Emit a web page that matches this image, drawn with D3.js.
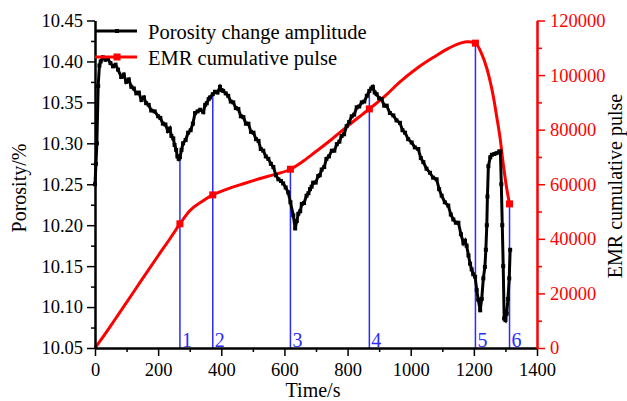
<!DOCTYPE html>
<html>
<head>
<meta charset="utf-8">
<script src="https://cdn.jsdelivr.net/npm/d3@7"></script>
<style>
  body { margin: 0; background: #fff; }
  text { font-family: "Liberation Serif", "Times New Roman", serif; }
</style>
</head>
<body>
<div id="chart"></div>
<script>
// porosity (black series)
var blackTime = [0, 3, 6, 10, 14, 18, 25, 33, 41, 49, 57, 65, 73, 83, 91, 99, 107, 115, 123, 131, 139, 147, 155, 162, 170, 178, 189, 200, 207, 215, 223, 231, 237, 242, 248, 252, 257, 261, 265, 269, 274, 279, 287, 295, 303, 310, 317, 325, 333, 343, 349, 354, 360, 364, 373, 380, 388, 396, 401, 406, 414, 422, 430, 438, 446, 454, 462, 470, 478, 486, 494, 502, 510, 518, 525, 533, 541, 549, 557, 565, 573, 581, 589, 596, 604, 612, 619, 628, 634, 639, 644, 650, 655, 662, 670, 676, 681, 686, 691, 699, 707, 712, 718, 726, 733, 741, 750, 758, 766, 774, 781, 789, 797, 805, 813, 821, 829, 837, 845, 853, 861, 869, 875, 880, 886, 892, 900, 908, 916, 924, 934, 945, 955, 966, 974, 982, 992, 1003, 1013, 1024, 1032, 1040, 1050, 1061, 1071, 1082, 1090, 1098, 1108, 1119, 1127, 1135, 1143, 1151, 1159, 1167, 1172, 1177, 1183, 1188, 1193, 1198, 1204, 1209, 1214, 1220, 1225, 1230, 1235, 1238, 1241, 1243, 1246, 1252, 1257, 1265, 1272, 1280, 1284, 1287, 1290, 1293, 1296, 1300, 1304, 1308, 1312, 1315];
var blackValue = [10.250, 10.275, 10.300, 10.370, 10.395, 10.400, 10.405, 10.402, 10.403, 10.398, 10.394, 10.396, 10.390, 10.381, 10.384, 10.375, 10.378, 10.369, 10.367, 10.361, 10.362, 10.353, 10.356, 10.349, 10.347, 10.340, 10.339, 10.333, 10.331, 10.324, 10.323, 10.315, 10.318, 10.309, 10.306, 10.298, 10.292, 10.284, 10.281, 10.283, 10.292, 10.300, 10.304, 10.313, 10.316, 10.324, 10.337, 10.339, 10.341, 10.338, 10.347, 10.349, 10.354, 10.356, 10.360, 10.363, 10.362, 10.369, 10.365, 10.364, 10.361, 10.358, 10.351, 10.350, 10.343, 10.342, 10.333, 10.332, 10.324, 10.324, 10.314, 10.313, 10.305, 10.303, 10.293, 10.291, 10.284, 10.281, 10.275, 10.271, 10.261, 10.256, 10.254, 10.251, 10.246, 10.240, 10.228, 10.212, 10.196, 10.205, 10.214, 10.217, 10.226, 10.227, 10.236, 10.239, 10.244, 10.247, 10.252, 10.252, 10.260, 10.261, 10.268, 10.271, 10.281, 10.284, 10.291, 10.291, 10.299, 10.302, 10.309, 10.311, 10.321, 10.326, 10.333, 10.335, 10.344, 10.345, 10.350, 10.351, 10.358, 10.364, 10.367, 10.369, 10.362, 10.360, 10.355, 10.354, 10.346, 10.346, 10.337, 10.334, 10.328, 10.325, 10.316, 10.313, 10.305, 10.301, 10.295, 10.293, 10.282, 10.277, 10.269, 10.264, 10.258, 10.256, 10.244, 10.236, 10.228, 10.224, 10.213, 10.207, 10.203, 10.203, 10.189, 10.178, 10.181, 10.175, 10.163, 10.153, 10.146, 10.140, 10.137, 10.121, 10.109, 10.096, 10.110, 10.135, 10.149, 10.170, 10.200, 10.235, 10.272, 10.283, 10.286, 10.287, 10.288, 10.290, 10.290, 10.250, 10.200, 10.150, 10.086, 10.084, 10.092, 10.110, 10.135, 10.170];

// EMR cumulative pulse (red series)
var redTime = [0, 30, 60, 100, 150, 200, 240, 269, 300, 340, 373, 420, 470, 520, 570, 619, 660, 700, 750, 800, 869, 920, 966, 1020, 1072, 1120, 1160, 1180, 1205, 1222, 1241, 1252, 1262, 1272, 1283, 1293, 1304, 1313];
var redValue = [0, 4800, 9900, 16700, 25300, 33800, 40500, 45500, 50300, 53800, 56100, 58300, 60200, 62000, 63600, 65500, 68500, 72000, 76500, 81300, 87600, 92500, 97500, 102500, 106500, 109800, 111800, 112200, 111700, 108500, 102500, 97500, 92000, 85000, 77000, 67500, 58500, 52800];

// marked stages
var eventTime = [269, 373, 619, 869, 1205, 1313];
var eventLabel = ['1', '2', '3', '4', '5', '6'];

var xTicks = [0, 200, 400, 600, 800, 1000, 1200, 1400];
var yLeftTicks = [10.05, 10.10, 10.15, 10.20, 10.25, 10.30, 10.35, 10.40, 10.45];
var yRightTicks = [0, 20000, 40000, 60000, 80000, 100000, 120000];
var legendLabels = ['Porosity change amplitude', 'EMR cumulative pulse'];

var W = 627, H = 401;
var BLACK = '#000', RED = '#ff0000', BLUE = '#2b2bff';

var x = d3.scaleLinear().domain([0, 1400]).range([95, 537]);
var yL = d3.scaleLinear().domain([10.05, 10.45]).range([348, 20.5]);
var yR = d3.scaleLinear().domain([0, 120000]).range([348, 20.5]);

function interp(ts, vs, t) {
  var i = d3.bisectLeft(ts, t);
  if (i <= 0) return vs[0];
  if (i >= ts.length) return vs[vs.length - 1];
  var k = (t - ts[i - 1]) / (ts[i] - ts[i - 1]);
  return vs[i - 1] + k * (vs[i] - vs[i - 1]);
}

var svg = d3.select('#chart').append('svg')
  .attr('width', W).attr('height', H);

// blue stage lines
eventTime.forEach(function (t, i) {
  var top = Math.min(yL(interp(blackTime, blackValue, t)), yR(interp(redTime, redValue, t)));
  svg.append('line')
    .attr('x1', x(t)).attr('x2', x(t))
    .attr('y1', yL(10.05)).attr('y2', top)
    .attr('stroke', BLUE).attr('stroke-width', 1.5);
  svg.append('text')
    .attr('x', x(t) + 2).attr('y', 347)
    .attr('font-size', 20).attr('fill', BLUE)
    .text(eventLabel[i]);
});

// red line
var redLine = d3.line()
  .x(function (d, i) { return x(redTime[i]); })
  .y(function (d) { return yR(d); })
  .curve(d3.curveMonotoneX);
svg.append('path')
  .datum(redValue)
  .attr('fill', 'none').attr('stroke', RED).attr('stroke-width', 3)
  .attr('d', redLine);

// black line with small square markers
var blackLine = d3.line()
  .x(function (d, i) { return x(blackTime[i]); })
  .y(function (d) { return yL(d); });
svg.append('path')
  .datum(blackValue)
  .attr('fill', 'none').attr('stroke', BLACK).attr('stroke-width', 3)
  .attr('stroke-linejoin', 'miter')
  .attr('d', blackLine);
svg.selectAll('.bmark').data(blackValue).enter().append('rect')
  .attr('x', function (d, i) { return x(blackTime[i]) - 2; })
  .attr('y', function (d) { return yL(d) - 2; })
  .attr('width', 4).attr('height', 4).attr('fill', BLACK);

// red markers at stages
svg.selectAll('.rmark').data(eventTime).enter().append('rect')
  .attr('x', function (t) { return x(t) - 3.5; })
  .attr('y', function (t) { return yR(interp(redTime, redValue, t)) - 3.5; })
  .attr('width', 7).attr('height', 7).attr('fill', RED);

// axes
function styleAxis(g, color, size) {
  g.select('.domain').attr('stroke', color).attr('stroke-width', 2);
  g.selectAll('.tick line').attr('stroke', color).attr('stroke-width', 1.5);
  g.selectAll('.tick text').attr('fill', color).attr('font-size', size)
    .style('font-family', '"Liberation Serif", serif');
}

var gx = svg.append('g').attr('transform', 'translate(0,348)')
  .call(d3.axisBottom(x).tickValues(xTicks).tickSize(8).tickPadding(7)
    .tickFormat(d3.format('d')).tickSizeOuter(0));
styleAxis(gx, BLACK, 18.5);
var gxm = svg.append('g').attr('transform', 'translate(0,348)')
  .call(d3.axisBottom(x).tickValues(d3.range(100, 1400, 200)).tickSize(4).tickFormat('').tickSizeOuter(0));
styleAxis(gxm, BLACK, 0);

var gl = svg.append('g').attr('transform', 'translate(95,0)')
  .call(d3.axisLeft(yL).tickValues(yLeftTicks).tickSize(8).tickPadding(4)
    .tickFormat(d3.format('.2f')).tickSizeOuter(0));
styleAxis(gl, BLACK, 18.5);
var glm = svg.append('g').attr('transform', 'translate(95,0)')
  .call(d3.axisLeft(yL).tickValues(d3.range(10.075, 10.45, 0.05)).tickSize(4).tickFormat('').tickSizeOuter(0));
styleAxis(glm, BLACK, 0);

var gr = svg.append('g').attr('transform', 'translate(537,0)')
  .call(d3.axisRight(yR).tickValues(yRightTicks).tickSize(8).tickPadding(5)
    .tickFormat(d3.format('d')).tickSizeOuter(0));
styleAxis(gr, RED, 18.5);
var grm = svg.append('g').attr('transform', 'translate(537,0)')
  .call(d3.axisRight(yR).tickValues(d3.range(10000, 120000, 20000)).tickSize(5).tickFormat('').tickSizeOuter(0));
styleAxis(grm, RED, 0);

// axis titles
svg.append('text')
  .attr('transform', 'translate(26,188) rotate(-90)')
  .attr('text-anchor', 'middle').attr('font-size', 20)
  .text('Porosity/%');
svg.append('text')
  .attr('x', 313).attr('y', 397)
  .attr('text-anchor', 'middle').attr('font-size', 20)
  .text('Time/s');
svg.append('text')
  .attr('transform', 'translate(622,186) rotate(-90)')
  .attr('text-anchor', 'middle').attr('font-size', 20)
  .text('EMR cumulative pulse');

// legend
var legendColors = [BLACK, RED];
var legendY = [31, 57];
legendLabels.forEach(function (lab, i) {
  svg.append('line')
    .attr('x1', 95).attr('x2', 137)
    .attr('y1', legendY[i]).attr('y2', legendY[i])
    .attr('stroke', legendColors[i]).attr('stroke-width', 3);
  var ms = i === 0 ? 4 : 7;
  svg.append('rect')
    .attr('x', 117 - ms / 2).attr('y', legendY[i] - ms / 2)
    .attr('width', ms).attr('height', ms).attr('fill', legendColors[i]);
  svg.append('text')
    .attr('x', 148).attr('y', legendY[i] + 8)
    .attr('font-size', 20.5).attr('fill', BLACK)
    .text(lab);
});
</script>
</body>
</html>
